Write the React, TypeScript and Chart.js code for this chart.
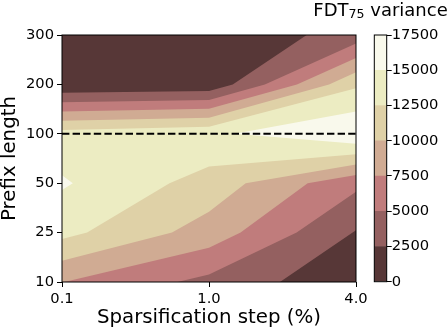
import React, { useEffect, useRef } from 'react';
import { Chart, registerables } from 'chart.js';

Chart.register(...registerables);

// ---- data ----
const stepLabels = ['0.1', '1.0', '4.0']; // Sparsification step (%)
const prefixLabels = ['10', '25', '50', '100', '200', '300']; // Prefix length
const levels = [0, 2500, 5000, 7500, 10000, 12500, 15000, 17500];
// FDT75 variance, one array per prefix length, columns follow stepLabels
const var10 = [7550, 4300, 570];
const var25 = [13240, 8910, 2350];
const var50 = [15280, 11480, 5550];
const var100 = [13520, 14500, 17370];
const var200 = [230, 650, 12100];
const var300 = [150, 520, 3500];
const dividerPrefix = '100';

const bandColors = ['#573737', '#946060', '#c07c7c', '#d0ab93', '#dfd1a7', '#ececc2', '#f9f9ec'];
const FAMILY = "'DejaVu Sans', sans-serif";

type P = { x: number; y: number; z: number };

function clipAbove(poly: P[], level: number): P[] {
  const out: P[] = [];
  for (let i = 0; i < poly.length; i++) {
    const a = poly[i];
    const b = poly[(i + 1) % poly.length];
    const ina = a.z >= level;
    const inb = b.z >= level;
    if (ina) out.push(a);
    if (ina !== inb) {
      const t = (level - a.z) / (b.z - a.z);
      out.push({ x: a.x + t * (b.x - a.x), y: a.y + t * (b.y - a.y), z: level });
    }
  }
  return out;
}

const contourPlugin = {
  id: 'contourFill',
  beforeDatasetsDraw(chart: any) {
    const { ctx, chartArea, scales } = chart;
    const xs = scales.x;
    const ys = scales.y;
    const grid = [var10, var25, var50, var100, var200, var300];
    ctx.save();
    ctx.beginPath();
    ctx.rect(chartArea.left, chartArea.top, chartArea.right - chartArea.left, chartArea.bottom - chartArea.top);
    ctx.clip();
    for (let k = 0; k < bandColors.length; k++) {
      const lv = levels[k];
      ctx.beginPath();
      for (let r = 0; r < grid.length - 1; r++) {
        for (let c = 0; c < stepLabels.length - 1; c++) {
          const quad: P[] = [
            { x: c, y: r, z: grid[r][c] },
            { x: c + 1, y: r, z: grid[r][c + 1] },
            { x: c + 1, y: r + 1, z: grid[r + 1][c + 1] },
            { x: c, y: r + 1, z: grid[r + 1][c] },
          ];
          const poly = clipAbove(quad, lv);
          if (poly.length < 3) continue;
          poly.forEach((p, i) => {
            const px = xs.getPixelForValue(p.x);
            const py = ys.getPixelForValue(p.y);
            if (i === 0) ctx.moveTo(px, py);
            else ctx.lineTo(px, py);
          });
          ctx.closePath();
        }
      }
      ctx.fillStyle = bandColors[k];
      ctx.fill();
    }
    ctx.restore();
  },
  afterDatasetsDraw(chart: any) {
    const { ctx, chartArea } = chart;
    ctx.save();
    ctx.strokeStyle = '#000';
    ctx.lineWidth = 1;
    ctx.strokeRect(chartArea.left, chartArea.top, chartArea.right - chartArea.left, chartArea.bottom - chartArea.top);
    ctx.restore();
  },
};

const colorbarPlugin = {
  id: 'colorbarDeco',
  afterDatasetsDraw(chart: any) {
    const { ctx, chartArea } = chart;
    ctx.save();
    ctx.strokeStyle = '#000';
    ctx.lineWidth = 1;
    ctx.strokeRect(chartArea.left, chartArea.top, chartArea.right - chartArea.left, chartArea.bottom - chartArea.top);
    // title: FDT_75 variance
    const big = 18;
    const small = 12.6;
    ctx.fillStyle = '#000';
    ctx.textBaseline = 'alphabetic';
    ctx.textAlign = 'left';
    ctx.font = `${big}px ${FAMILY}`;
    const w1 = ctx.measureText('FDT').width;
    const w3 = ctx.measureText(' variance').width;
    ctx.font = `${small}px ${FAMILY}`;
    const w2 = ctx.measureText('75').width;
    const total = w1 + w2 + w3;
    const cx = (chartArea.left + chartArea.right) / 2;
    let x = cx - total / 2;
    const base = 15.5;
    ctx.font = `${big}px ${FAMILY}`;
    ctx.fillText('FDT', x, base);
    x += w1;
    ctx.font = `${small}px ${FAMILY}`;
    ctx.fillText('75', x, base + 2.3);
    x += w2;
    ctx.font = `${big}px ${FAMILY}`;
    ctx.fillText(' variance', x, base);
    ctx.restore();
  },
};

export default function App() {
  const mainRef = useRef<HTMLCanvasElement>(null);
  const cbRef = useRef<HTMLCanvasElement>(null);

  useEffect(() => {
    const tickFont = { family: FAMILY, size: 14.7 };
    const titleFont = { family: FAMILY, size: 19.8, lineHeight: 1 };
    const divY = prefixLabels.indexOf(dividerPrefix);

    const main = new Chart(mainRef.current as HTMLCanvasElement, {
      type: 'line',
      data: {
        datasets: [
          {
            data: [
              { x: 0, y: divY },
              { x: stepLabels.length - 1, y: divY },
            ],
            borderColor: '#000',
            borderWidth: 2,
            borderDash: [7.4, 3.2],
            pointRadius: 0,
            fill: false,
          },
        ],
      },
      options: {
        responsive: false,
        animation: false,
        layout: { padding: { top: 35, right: 16, left: 0, bottom: 0 } },
        plugins: { legend: { display: false }, tooltip: { enabled: false } },
        scales: {
          x: {
            type: 'linear',
            min: 0,
            max: stepLabels.length - 1,
            afterFit: (s: any) => {
              s.height = 48;
            },
            ticks: {
              stepSize: 1,
              autoSkip: false,
              maxRotation: 0,
              padding: 3,
              color: '#000',
              font: tickFont,
              callback: (v: any) => stepLabels[v] ?? '',
            },
            grid: { display: true, drawOnChartArea: false, drawTicks: true, tickLength: 5, color: '#000', lineWidth: 1 },
            border: { display: false },
            title: {
              display: true,
              text: 'Sparsification step (%)',
              color: '#000',
              font: titleFont,
              padding: { top: 0, bottom: 2 },
            },
          },
          y: {
            type: 'linear',
            min: 0,
            max: prefixLabels.length - 1,
            afterFit: (s: any) => {
              s.width = 62;
            },
            ticks: {
              stepSize: 1,
              autoSkip: false,
              padding: 3,
              color: '#000',
              font: tickFont,
              callback: (v: any) => prefixLabels[v] ?? '',
            },
            grid: { display: true, drawOnChartArea: false, drawTicks: true, tickLength: 5, color: '#000', lineWidth: 1 },
            border: { display: false },
            title: {
              display: true,
              text: 'Prefix length',
              color: '#000',
              font: titleFont,
              padding: { top: 0, bottom: 0 },
            },
          },
        },
      } as any,
      plugins: [contourPlugin],
    });

    const cb = new Chart(cbRef.current as HTMLCanvasElement, {
      type: 'bar',
      data: {
        labels: [''],
        datasets: bandColors.map((c, i) => ({
          data: [levels[i + 1] - levels[i]],
          backgroundColor: c,
          borderWidth: 0,
          barPercentage: 1,
          categoryPercentage: 1,
          stack: 'cb',
        })),
      },
      options: {
        responsive: false,
        animation: false,
        layout: { padding: { left: 74.3, top: 35, bottom: 48.3, right: 0 } },
        plugins: { legend: { display: false }, tooltip: { enabled: false } },
        scales: {
          x: { display: false, stacked: true },
          y: {
            position: 'right',
            stacked: true,
            min: levels[0],
            max: levels[levels.length - 1],
            afterFit: (s: any) => {
              s.width = 61.3;
            },
            ticks: {
              stepSize: 2500,
              padding: 0,
              color: '#000',
              font: tickFont,
              callback: (v: any) => String(v),
            },
            grid: { display: true, drawOnChartArea: false, drawTicks: true, tickLength: 5, color: '#000', lineWidth: 1 },
            border: { display: false },
          },
        },
      } as any,
      plugins: [colorbarPlugin],
    });

    return () => {
      main.destroy();
      cb.destroy();
    };
  }, []);

  return (
    <div style={{ position: 'fixed', left: 0, top: 0, width: 448, height: 330, background: '#fff', overflow: 'hidden' }}>
      <canvas ref={mainRef} width={372} height={330} style={{ position: 'absolute', left: 0, top: 0 }} />
      <canvas ref={cbRef} width={148} height={330} style={{ position: 'absolute', left: 300, top: 0 }} />
    </div>
  );
}
